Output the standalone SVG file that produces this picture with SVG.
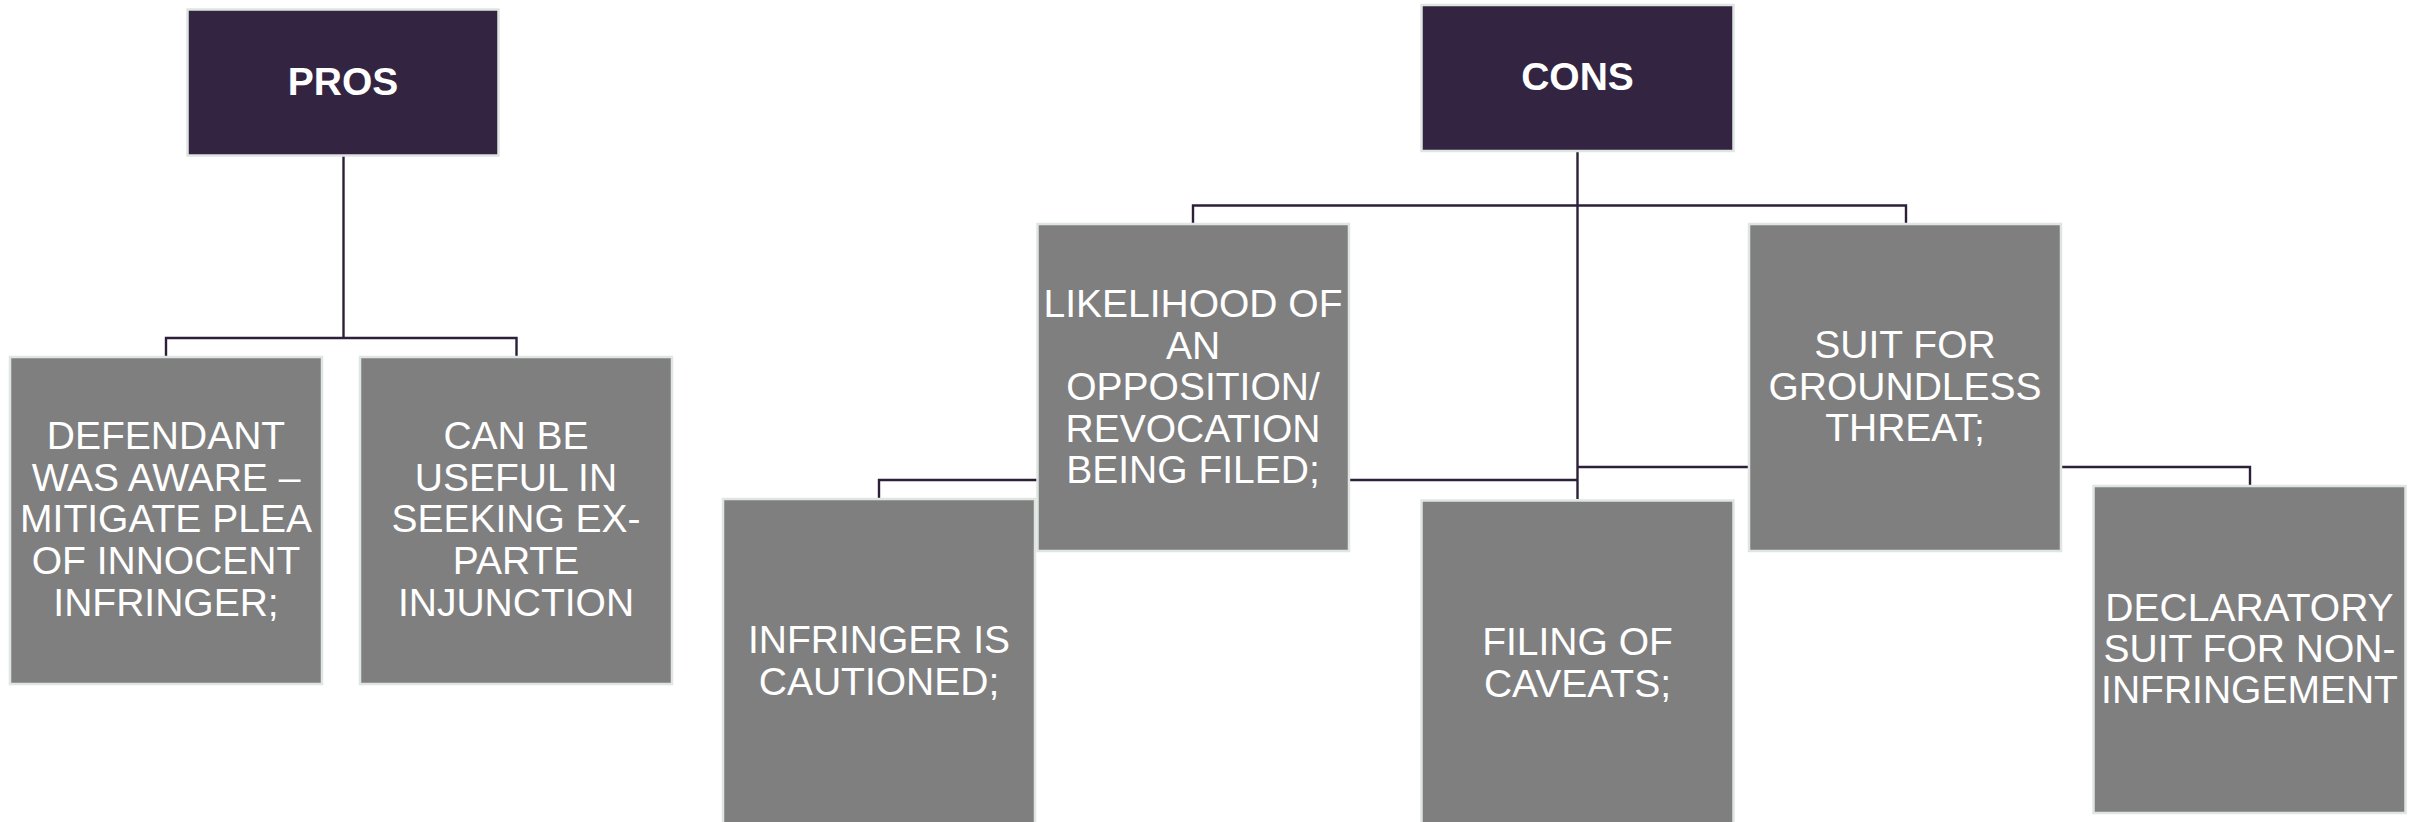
<svg xmlns="http://www.w3.org/2000/svg" width="2415" height="822" viewBox="0 0 2415 822">
<style>
.hd{fill:#332541;stroke:#dfe6e2;stroke-width:2.5}
.bx{fill:#7f7f7f;stroke:#dfe6e2;stroke-width:2.5}
.ht{font-family:"Liberation Sans",Arial,sans-serif;font-weight:bold;font-size:39px;fill:#ffffff;text-anchor:middle}
.bt{font-family:"Liberation Sans",Arial,sans-serif;font-size:39px;fill:#ffffff;text-anchor:middle}
.cn{fill:none;stroke:#2b2038;stroke-width:2.4}
</style>
<rect width="2415" height="822" fill="#ffffff"/>
<g id="connectors">
<path class="cn" d="M343.5 156 V338"/>
<path class="cn" d="M166 357 V338 H516.5 V357"/>
<path class="cn" d="M1577.5 151 V499"/>
<path class="cn" d="M1193 224 V205.5 H1906 V224"/>
<path class="cn" d="M1037 480 H879 V499"/>
<path class="cn" d="M1349 480 H1577.5"/>
<path class="cn" d="M1577.5 467 H1749"/>
<path class="cn" d="M2061 467 H2250 V486"/>
</g>
<g id="pros">
<rect class="hd" x="187.5" y="9.5" width="311" height="146"/>
<text class="ht" x="343" y="95">PROS</text>
</g>
<g id="cons">
<rect class="hd" x="1421.5" y="5" width="312" height="146"/>
<text class="ht" x="1577.5" y="90">CONS</text>
</g>
<g id="defendant">
<rect class="bx" x="10" y="357" width="312" height="327"/>
<text class="bt" x="166"><tspan x="166" y="449">DEFENDANT</tspan><tspan x="166" y="490.7">WAS AWARE –</tspan><tspan x="166" y="532.4">MITIGATE PLEA</tspan><tspan x="166" y="574.1">OF INNOCENT</tspan><tspan x="166" y="615.8">INFRINGER;</tspan></text>
</g>
<g id="exparte">
<rect class="bx" x="360" y="357" width="312" height="327"/>
<text class="bt" x="516"><tspan x="516" y="449">CAN BE</tspan><tspan x="516" y="490.7">USEFUL IN</tspan><tspan x="516" y="532.4">SEEKING EX-</tspan><tspan x="516" y="574.1">PARTE</tspan><tspan x="516" y="615.8">INJUNCTION</tspan></text>
</g>
<g id="likelihood">
<rect class="bx" x="1037.5" y="224" width="311.5" height="327"/>
<text class="bt" x="1193"><tspan x="1193" y="317">LIKELIHOOD OF</tspan><tspan x="1193" y="358.5">AN</tspan><tspan x="1193" y="400">OPPOSITION/</tspan><tspan x="1193" y="441.5">REVOCATION</tspan><tspan x="1193" y="483">BEING FILED;</tspan></text>
</g>
<g id="suit">
<rect class="bx" x="1749" y="224" width="312" height="327"/>
<text class="bt" x="1905"><tspan x="1905" y="358">SUIT FOR</tspan><tspan x="1905" y="399.5">GROUNDLESS</tspan><tspan x="1905" y="441">THREAT;</tspan></text>
</g>
<g id="infringer">
<rect class="bx" x="723" y="499" width="312" height="327"/>
<text class="bt" x="879"><tspan x="879" y="653">INFRINGER IS</tspan><tspan x="879" y="695">CAUTIONED;</tspan></text>
</g>
<g id="caveats">
<rect class="bx" x="1421.5" y="500.5" width="312" height="327"/>
<text class="bt" x="1577.5"><tspan x="1577.5" y="655">FILING OF</tspan><tspan x="1577.5" y="697">CAVEATS;</tspan></text>
</g>
<g id="declaratory">
<rect class="bx" x="2093.5" y="486" width="312" height="327"/>
<text class="bt" x="2249.5"><tspan x="2249.5" y="620.7">DECLARATORY</tspan><tspan x="2249.5" y="662">SUIT FOR NON-</tspan><tspan x="2249.5" y="703">INFRINGEMENT</tspan></text>
</g>
</svg>
